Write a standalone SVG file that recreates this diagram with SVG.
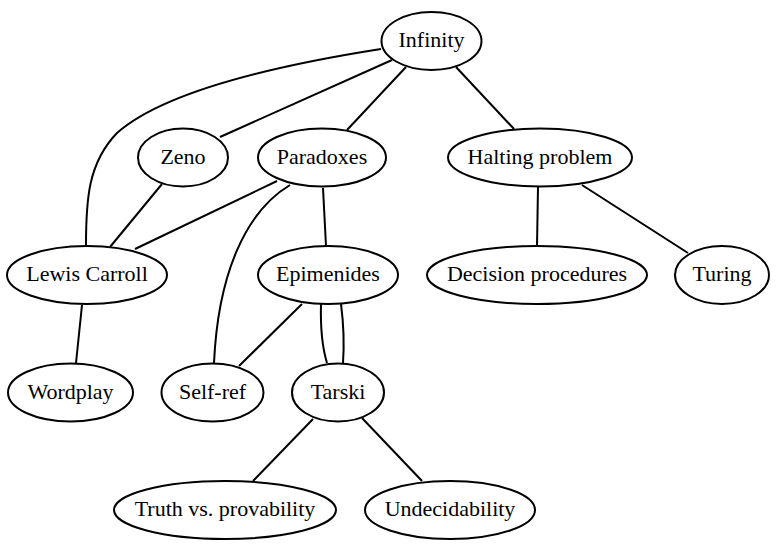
<svg xmlns="http://www.w3.org/2000/svg" width="778" height="553" viewBox="0 0 778 553">
<style>
.node ellipse{fill:#fff;stroke:#000;stroke-width:2}
.node text{font-family:"Liberation Serif","Times New Roman",serif;font-size:22px;fill:#000;text-anchor:middle}
#edges path{fill:none;stroke:#000;stroke-width:2}
</style>
<rect width="778" height="553" fill="#fff"/>
<g id="edges">
<path d="M381,49 C260,68 160,95 117,133 C88,163 86,200 86,245"/>
<path d="M392,60 L220,137"/>
<path d="M406,67 L347,130"/>
<path d="M456,67 L514,129"/>
<path d="M162,184 L110,247"/>
<path d="M277,181 L135,249"/>
<path d="M290,185 C245,212 218,275 214,363"/>
<path d="M323,188 L326,246"/>
<path d="M538,187 L537,246"/>
<path d="M582,185 L688,253"/>
<path d="M82,305 L76,363"/>
<path d="M302,304 L239,366"/>
<path d="M321,304 Q320,340 327,363"/>
<path d="M341,304 Q345,335 343,363"/>
<path d="M313,419 L253,481"/>
<path d="M362,418 L422,481"/>
</g>
<g id="infinity" class="node"><ellipse cx="431.5" cy="41" rx="50" ry="29"/><text x="431.5" y="47">Infinity</text></g>
<g id="zeno" class="node"><ellipse cx="183" cy="157.5" rx="45" ry="29"/><text x="183" y="163.5">Zeno</text></g>
<g id="paradoxes" class="node"><ellipse cx="322" cy="157.5" rx="64" ry="29"/><text x="322" y="163.5">Paradoxes</text></g>
<g id="halting" class="node"><ellipse cx="540" cy="157.5" rx="92" ry="29"/><text x="540" y="163.5">Halting problem</text></g>
<g id="lewis" class="node"><ellipse cx="87" cy="275" rx="80" ry="29"/><text x="87" y="281">Lewis Carroll</text></g>
<g id="epimenides" class="node"><ellipse cx="328" cy="275" rx="70" ry="29"/><text x="328" y="281">Epimenides</text></g>
<g id="decision" class="node"><ellipse cx="537" cy="275" rx="110" ry="29"/><text x="537" y="281">Decision procedures</text></g>
<g id="turing" class="node"><ellipse cx="722" cy="275" rx="47" ry="29"/><text x="722" y="281">Turing</text></g>
<g id="wordplay" class="node"><ellipse cx="70.5" cy="392.5" rx="62.5" ry="29"/><text x="70.5" y="398.5">Wordplay</text></g>
<g id="selfref" class="node"><ellipse cx="212.5" cy="392.5" rx="51" ry="29"/><text x="212.5" y="398.5">Self-ref</text></g>
<g id="tarski" class="node"><ellipse cx="338" cy="392.5" rx="46" ry="29"/><text x="338" y="398.5">Tarski</text></g>
<g id="truth" class="node"><ellipse cx="225" cy="510" rx="111" ry="29"/><text x="225" y="516">Truth vs. provability</text></g>
<g id="undecidability" class="node"><ellipse cx="450" cy="510" rx="85" ry="29"/><text x="450" y="516">Undecidability</text></g>
</svg>
